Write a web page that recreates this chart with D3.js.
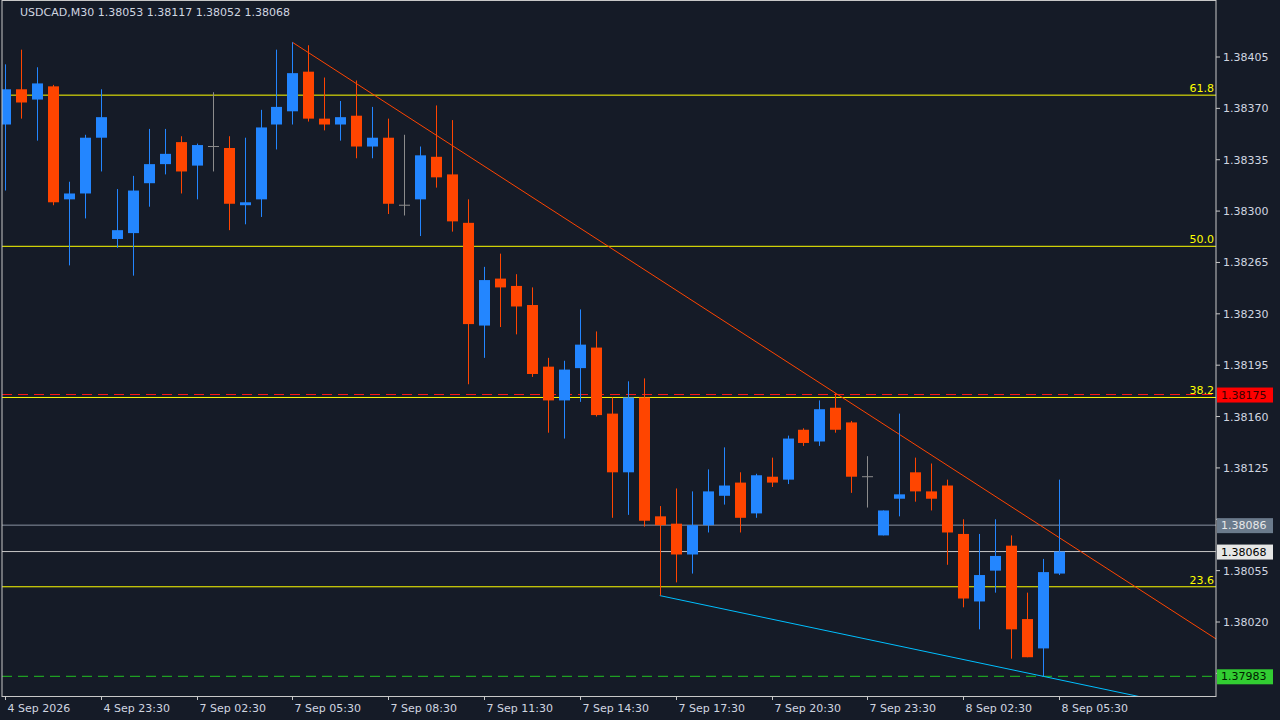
<!DOCTYPE html>
<html><head><meta charset="utf-8">
<script src="https://cdn.jsdelivr.net/npm/d3@7"></script>
<style>body{margin:0;background:#151b27;overflow:hidden}svg{display:block}text{font-family:"DejaVu Sans",sans-serif;font-size:11px}</style>
</head><body><svg id="c" width="1280" height="720"></svg>
<script>
const opens=[1.38359,1.38383,1.38376,1.38385,1.38308,1.38312,1.38350,1.38281,1.38285,1.38319,1.38332,1.38347,1.38331,1.38344,1.38343,1.38304,1.38308,1.38359,1.38368,1.38395,1.38363,1.38359,1.38365,1.38344,1.38350,1.38304,1.38308,1.38337,1.38325,1.38292,1.38222,1.38254,1.38249,1.38236,1.38194,1.38171,1.38193,1.38207,1.38162,1.38122,1.38173,1.38092,1.38087,1.38066,1.38086,1.38106,1.38115,1.38094,1.38119,1.38117,1.38151,1.38143,1.38166,1.38156,1.38119,1.38079,1.38104,1.38122,1.38109,1.38113,1.38080,1.38034,1.38055,1.38072,1.38022,1.38002,1.38053];
const highs=[1.38400,1.38410,1.38398,1.38386,1.38320,1.38352,1.38383,1.38315,1.38324,1.38356,1.38356,1.38351,1.38346,1.38381,1.38351,1.38350,1.38369,1.38410,1.38415,1.38413,1.38391,1.38375,1.38389,1.38371,1.38363,1.38352,1.38344,1.38372,1.38362,1.38308,1.38262,1.38271,1.38257,1.38248,1.38200,1.38198,1.38233,1.38218,1.38173,1.38184,1.38186,1.38099,1.38111,1.38109,1.38124,1.38139,1.38122,1.38121,1.38132,1.38147,1.38152,1.38171,1.38176,1.38157,1.38133,1.38096,1.38162,1.38132,1.38128,1.38117,1.38090,1.38080,1.38090,1.38079,1.38040,1.38063,1.38117];
const lows=[1.38314,1.38363,1.38348,1.38304,1.38263,1.38295,1.38327,1.38275,1.38256,1.38303,1.38325,1.38312,1.38308,1.38327,1.38287,1.38291,1.38296,1.38342,1.38359,1.38361,1.38355,1.38348,1.38336,1.38336,1.38298,1.38297,1.38283,1.38316,1.38286,1.38182,1.38200,1.38221,1.38216,1.38187,1.38149,1.38145,1.38170,1.38160,1.38091,1.38093,1.38085,1.38038,1.38047,1.38053,1.38081,1.38100,1.38081,1.38091,1.38112,1.38114,1.38140,1.38140,1.38149,1.38108,1.38098,1.38079,1.38092,1.38102,1.38096,1.38059,1.38030,1.38015,1.38040,1.37995,1.37996,1.37983,1.38052];
const closes=[1.38383,1.38374,1.38387,1.38306,1.38312,1.38350,1.38364,1.38287,1.38314,1.38332,1.38339,1.38327,1.38345,1.38344,1.38305,1.38306,1.38357,1.38371,1.38394,1.38363,1.38359,1.38364,1.38344,1.38350,1.38305,1.38304,1.38338,1.38323,1.38293,1.38223,1.38253,1.38248,1.38235,1.38189,1.38171,1.38192,1.38209,1.38161,1.38122,1.38173,1.38089,1.38086,1.38066,1.38086,1.38109,1.38113,1.38091,1.38120,1.38115,1.38145,1.38142,1.38165,1.38151,1.38119,1.38119,1.38096,1.38107,1.38109,1.38104,1.38081,1.38036,1.38052,1.38065,1.38015,1.37996,1.38054,1.38068];
const priceTicks=[1.38405,1.38370,1.38335,1.38300,1.38265,1.38230,1.38195,1.38160,1.38125,1.38090,1.38055,1.38020,1.37985];
const timeLabels=[[0,"4 Sep 2026"],[6,"4 Sep 23:30"],[12,"7 Sep 02:30"],[18,"7 Sep 05:30"],[24,"7 Sep 08:30"],[30,"7 Sep 11:30"],[36,"7 Sep 14:30"],[42,"7 Sep 17:30"],[48,"7 Sep 20:30"],[54,"7 Sep 23:30"],[60,"8 Sep 02:30"],[66,"8 Sep 05:30"]];
const fibLevels=[["61.8",1.38379],["50.0",1.38276],["38.2",1.38173],["23.6",1.38044]];
const trendDown=[[18,1.38415],[52,1.38176]];
const trendLow=[[41,1.38038],[65,1.37983]];
const redLevel=1.38175, greenLevel=1.37983, grayLevel=1.38086, lastLevel=1.38068;

const svg=d3.select("#c");
const L=2,R=1216,T=0,B=696;
const x=d3.scaleLinear().domain([0,66]).range([5,1059]);
const y=d3.scaleLinear().domain([1.38405,1.38020]).range([57,622]);
svg.append("defs").append("clipPath").attr("id","pc").append("rect").attr("x",L).attr("y",T).attr("width",R-L).attr("height",B-T);
const g=svg.append("g").attr("clip-path","url(#pc)");
g.append("line").attr("x1",L).attr("x2",R).attr("y1",y(grayLevel)).attr("y2",y(grayLevel)).attr("stroke","#8a93a0");
g.append("line").attr("x1",L).attr("x2",R).attr("y1",y(lastLevel)).attr("y2",y(lastLevel)).attr("stroke","#c8c8c8");
g.append("line").attr("x1",L).attr("x2",R).attr("y1",y(redLevel)).attr("y2",y(redLevel)).attr("stroke","#ff1a1a").attr("stroke-dasharray","10,6");
g.append("line").attr("x1",L).attr("x2",R).attr("y1",y(greenLevel)).attr("y2",y(greenLevel)).attr("stroke","#22c022").attr("stroke-dasharray","10,6");
fibLevels.forEach(([t,v])=>{
  g.append("line").attr("x1",L).attr("x2",R).attr("y1",y(v)).attr("y2",y(v)).attr("stroke","#ffff00");
  svg.append("text").attr("x",R-2).attr("y",y(v)-3).attr("text-anchor","end").attr("fill","#ffff00").text(t);
});
function ext(p,xr){const [a,b]=p;const s=(y(b[1])-y(a[1]))/(x(b[0])-x(a[0]));return [x(a[0]),y(a[1]),xr,y(a[1])+s*(xr-x(a[0]))];}
let t1=ext(trendDown,1300);g.append("line").attr("x1",t1[0]).attr("y1",t1[1]).attr("x2",t1[2]).attr("y2",t1[3]).attr("stroke","#ff4500");
let t2=ext(trendLow,1300);g.append("line").attr("x1",t2[0]).attr("y1",t2[1]).attr("x2",t2[2]).attr("y2",t2[3]).attr("stroke","#00bfff");
opens.forEach((o,i)=>{
  const c=closes[i];const col=c>o?"#2386ff":(c<o?"#ff4500":"#8c8c8c");
  const cx=Math.round(x(i))+0.5;
  g.append("line").attr("x1",cx).attr("x2",cx).attr("y1",y(highs[i])).attr("y2",y(lows[i])).attr("stroke",col);
  if(c===o){g.append("line").attr("x1",cx-5.5).attr("x2",cx+5.5).attr("y1",y(o)).attr("y2",y(o)).attr("stroke",col);}
  else g.append("rect").attr("x",cx-5.5).attr("width",11).attr("y",y(Math.max(o,c))).attr("height",Math.max(1,y(Math.min(o,c))-y(Math.max(o,c)))).attr("fill",col);
});
svg.append("rect").attr("x",L).attr("y",T+0.5).attr("width",R-L).attr("height",B-T).attr("fill","none").attr("stroke","#c8c8c8");
priceTicks.forEach(v=>{
  const near=[redLevel,grayLevel,lastLevel,greenLevel].some(l=>Math.abs(y(l)-y(v))<14);
  svg.append("line").attr("x1",R).attr("x2",R+4).attr("y1",y(v)).attr("y2",y(v)).attr("stroke","#c8c8c8");
  if(!near) svg.append("text").attr("x",R+7).attr("y",y(v)+4).attr("fill","#d0d6e0").text(d3.format(".5f")(v));
});
function tag(v,bg,fg){svg.append("rect").attr("x",R+1).attr("y",y(v)-7).attr("width",56).attr("height",15).attr("fill",bg);
 svg.append("text").attr("x",R+5).attr("y",y(v)+4).attr("fill",fg).text(d3.format(".5f")(v));}
tag(redLevel,"#ff0000","#3a0000");tag(grayLevel,"#6b7b8c","#e8e8e8");tag(lastLevel,"#e6e6e6","#000");tag(greenLevel,"#32cd32","#002000");
timeLabels.forEach(([i,t])=>{const xx=Math.round(x(i))+0.5;
  svg.append("line").attr("x1",xx).attr("x2",xx).attr("y1",B).attr("y2",B+4).attr("stroke","#c8c8c8");
  svg.append("text").attr("x",xx+2).attr("y",712).attr("fill","#d0d6e0").text(t);});
svg.append("text").attr("x",20).attr("y",16).attr("fill","#d0d6e0").text("USDCAD,M30  1.38053 1.38117 1.38052 1.38068");
</script></body></html>
